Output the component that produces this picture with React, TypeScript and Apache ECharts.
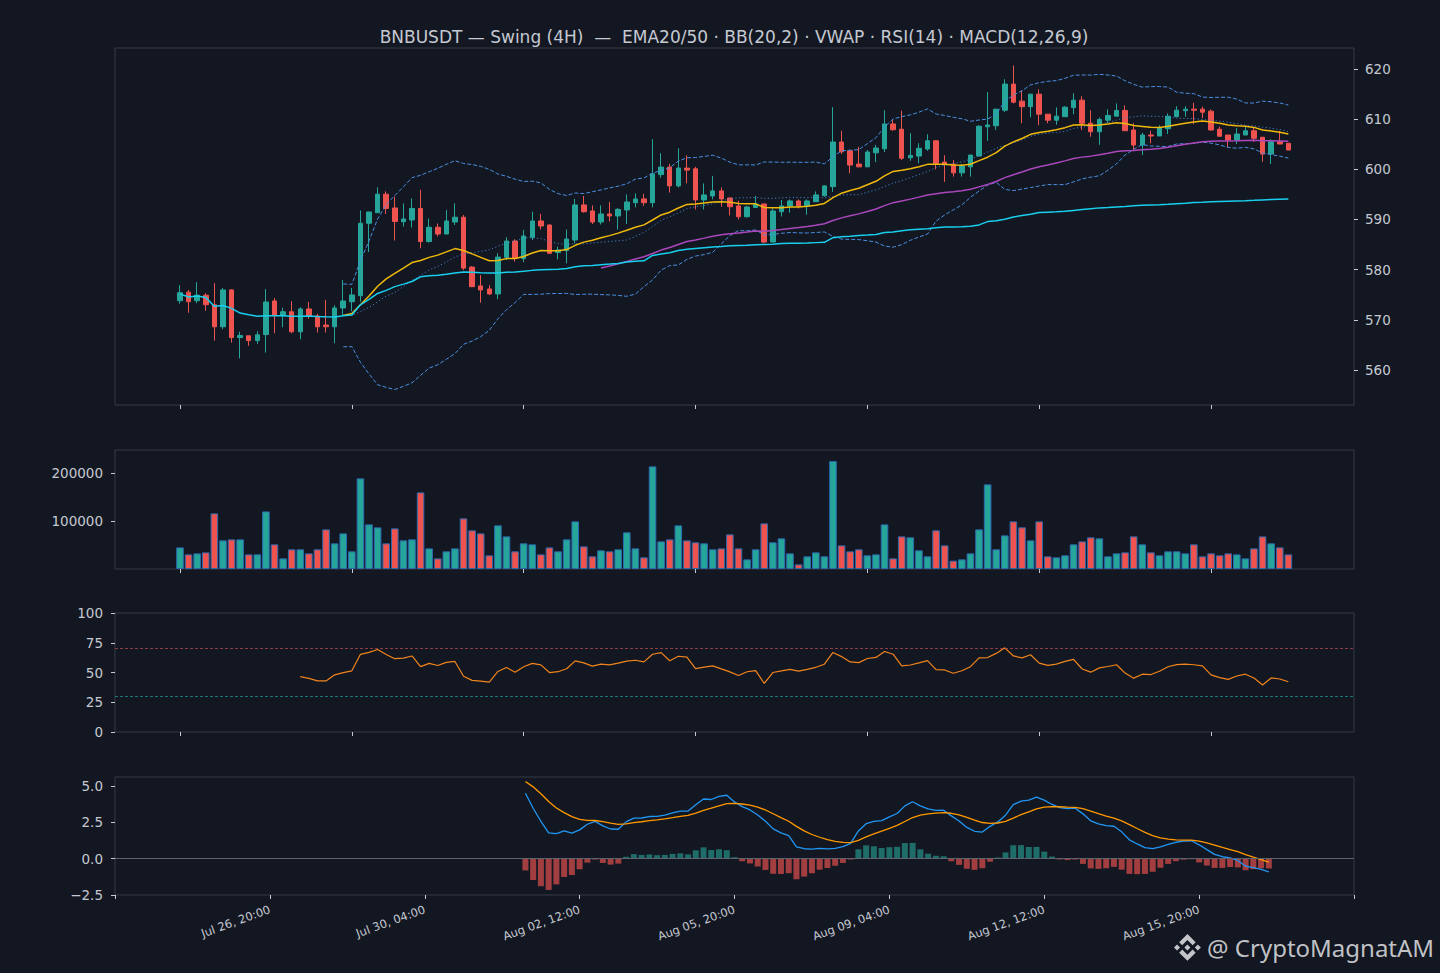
import React, { useEffect, useRef } from "react";
import * as echarts from "echarts";

// ---------- data (4H candles, index 0 = Jul 26 20:00) ----------
const opens = [
  573.8, 575.5, 573.8, 574.9, 573.0, 568.6, 575.95, 566.45, 566.8, 565.85,
  567.05, 573.75, 570.95, 571.6, 567.6, 572.15, 570.75, 568.95, 568.6, 572.35,
  573.6, 574.8, 589.25, 591.35, 595.05, 592.3, 589.55, 589.9, 592.2, 585.6,
  588.45, 587.1, 589.5, 590.45, 580.5, 576.75, 576.15, 575.15, 582.45, 585.7,
  582.2, 586.45, 589.7, 588.9, 583.4, 583.8, 585.9, 592.9, 591.7, 589.5,
  591.1, 590.7, 591.9, 593.35, 594.1, 593.35, 598.95, 600.45, 596.7, 600.25,
  600.1, 593.9, 594.7, 595.7, 594.3, 592.7, 590.55, 592.4, 593.1, 585.5,
  591.55, 592.7, 593.7, 592.7, 593.55, 594.75, 596.55, 605.45, 603.7, 601.05,
  600.5, 603.3, 604.1, 609.05, 608.0, 602.3, 602.65, 604.05, 605.7, 601.45,
  601.05, 599.3, 600.5, 602.65, 608.5, 608.7, 611.8, 617.0, 613.6, 612.5,
  615.0, 611.0, 609.8, 610.5, 612.3, 613.8, 609.2, 607.5, 609.8, 610.6,
  611.75, 607.85, 604.85, 606.85, 606.65, 608.1, 610.5, 611.7, 612.0, 612.0,
  611.6, 608.0, 606.85, 605.85, 606.85, 607.7, 606.4, 603.05, 605.5, 605.2,
];
const highs = [
  576.9, 575.95, 577.5, 575.3, 577.3, 576.35, 576.1, 567.6, 566.8, 567.7,
  576.1, 574.35, 572.4, 573.7, 572.5, 573.55, 571.2, 573.95, 572.9, 577.95,
  576.35, 591.8, 591.5, 596.4, 595.6, 594.55, 593.2, 594.2, 595.9, 590.2,
  589.2, 591.9, 593.2, 590.9, 580.7, 578.9, 576.9, 583.25, 586.45, 586.05,
  587.9, 591.55, 591.1, 589.0, 584.6, 588.0, 594.1, 594.7, 592.8, 592.8,
  593.5, 592.3, 595.0, 595.2, 595.1, 606.0, 603.2, 601.1, 604.2, 602.8,
  600.5, 597.2, 598.7, 596.4, 594.3, 593.75, 592.7, 594.7, 593.1, 592.2,
  593.9, 594.0, 594.0, 594.0, 595.6, 596.8, 612.4, 607.7, 603.7, 604.5,
  603.85, 604.9, 611.8, 609.8, 611.7, 607.2, 605.2, 607.0, 605.7, 602.8,
  601.85, 601.05, 602.85, 608.8, 615.4, 612.0, 617.95, 620.7, 615.7, 615.0,
  615.95, 611.0, 612.35, 612.6, 615.15, 614.6, 611.8, 610.35, 611.95, 613.15,
  612.75, 609.2, 607.3, 607.7, 608.8, 611.15, 612.6, 612.6, 613.3, 612.5,
  611.95, 608.5, 606.85, 608.2, 608.6, 608.4, 606.4, 606.0, 607.7, 605.2,
];
const lows = [
  573.2, 571.4, 573.3, 571.8, 565.85, 568.1, 565.45, 562.3, 564.8, 565.2,
  563.45, 567.3, 568.5, 567.3, 566.1, 570.2, 567.45, 567.45, 565.3, 570.75,
  571.7, 573.6, 583.5, 591.35, 591.1, 585.8, 588.6, 588.4, 584.25, 585.4,
  586.6, 587.1, 588.9, 579.9, 576.5, 573.4, 574.95, 574.1, 581.9, 581.6,
  581.5, 585.9, 588.0, 583.1, 582.05, 581.25, 585.25, 591.35, 589.1, 589.0,
  589.6, 588.0, 589.1, 592.4, 592.7, 592.4, 598.3, 595.35, 596.4, 597.2,
  592.0, 592.0, 594.0, 592.55, 590.8, 590.0, 590.4, 592.4, 585.25, 585.4,
  590.6, 591.35, 592.2, 590.95, 593.55, 594.55, 595.5, 603.05, 599.2, 600.4,
  600.5, 601.45, 603.45, 607.7, 601.85, 601.7, 601.2, 603.7, 600.0, 597.5,
  598.55, 598.55, 598.55, 602.65, 605.7, 607.85, 611.4, 613.15, 609.2, 610.35,
  608.8, 609.2, 608.9, 610.5, 611.0, 607.85, 606.5, 604.9, 609.2, 610.6,
  607.7, 603.7, 602.85, 605.2, 606.65, 607.05, 610.5, 610.5, 609.0, 610.2,
  607.7, 606.6, 604.4, 605.05, 606.85, 605.5, 601.5, 601.05, 605.05, 603.85,
];
const closes = [
  575.4, 573.6, 574.9, 573.0, 568.6, 575.95, 566.45, 566.85, 565.85, 567.0,
  573.55, 570.95, 571.6, 567.6, 572.15, 570.75, 568.6, 568.6, 572.35, 573.75,
  574.95, 589.25, 591.5, 595.05, 592.2, 589.6, 590.1, 592.2, 585.6, 588.45,
  587.1, 589.7, 590.45, 580.3, 576.6, 575.95, 575.15, 582.5, 585.7, 582.25,
  586.7, 589.7, 588.7, 583.25, 583.9, 586.1, 592.9, 591.55, 589.5, 591.1,
  590.7, 592.0, 593.5, 594.1, 593.35, 599.1, 600.45, 596.7, 600.25, 599.85,
  593.9, 594.9, 595.7, 594.1, 592.55, 590.55, 592.5, 593.1, 585.5, 591.7,
  592.7, 593.7, 592.7, 593.7, 594.9, 596.7, 605.45, 603.5, 600.85, 600.5,
  603.45, 604.25, 609.05, 607.9, 602.2, 602.8, 604.2, 605.7, 601.2, 601.05,
  599.3, 600.65, 602.85, 608.6, 608.85, 612.0, 617.0, 613.4, 612.5, 615.0,
  611.0, 609.8, 610.6, 612.4, 613.8, 609.2, 607.5, 609.95, 610.75, 611.75,
  607.7, 604.85, 606.85, 606.65, 608.3, 610.6, 611.8, 612.0, 611.8, 611.4,
  607.85, 606.6, 605.85, 607.05, 607.7, 606.2, 603.05, 605.5, 605.05, 603.85,
];
const volumes = [
  45000, 30500, 32600, 34700, 116000, 59700, 61800, 61800, 30500, 30500,
  120000, 51400, 22200, 41000, 41000, 32600, 41000, 82600, 53500, 74300,
  36800, 188900, 93000, 86800, 53500, 84700, 59700, 61800, 159700, 43000,
  22200, 36800, 43000, 105600, 80600, 74300, 28500, 91000, 68000, 36800,
  53500, 51400, 30500, 45000, 36800, 61800, 99300, 47200, 26400, 38900,
  36800, 41000, 76400, 43000, 24300, 213900, 57600, 61800, 91000, 59700,
  55600, 53500, 41000, 43000, 72200, 43000, 20100, 41000, 95100, 55600,
  63900, 32600, 9700, 26400, 34700, 26400, 225000, 49300, 36800, 41000,
  28500, 30500, 93000, 22200, 68000, 66000, 38900, 26400, 80600, 49300,
  17400, 20100, 32600, 82600, 176400, 41000, 70100, 99300, 86800, 59700,
  99300, 26400, 24300, 28500, 51400, 57600, 66000, 63900, 26400, 32600,
  34700, 68000, 51400, 34700, 28500, 36800, 36800, 32600, 51400, 26400,
  32600, 28500, 32600, 30500, 22200, 43000, 68000, 53500, 45100, 30500,
];
const dateLabels = [
  "Jul 26, 20:00", "Jul 30, 04:00", "Aug 02, 12:00", "Aug 05, 20:00",
  "Aug 09, 04:00", "Aug 12, 12:00", "Aug 15, 20:00",
];
const priceTicks = [560, 570, 580, 590, 600, 610, 620];
const volumeTicks = [100000, 200000];
const macdTicks = [-2.5, 0, 2.5, 5];
const candleTicks = [0, 20, 40, 60, 80, 100, 120];
const titleText =
  "BNBUSDT \u2014 Swing (4H)  \u2014  EMA20/50 \u00b7 BB(20,2) \u00b7 VWAP \u00b7 RSI(14) \u00b7 MACD(12,26,9)";
const watermarkText = "@ CryptoMagnatAM";

// ---------- indicators derived from the candles (TA-Lib conventions) ----------
type N = number | null;
// EMA seeded with the SMA of src[start .. start+n-1]; first output at start+n-1
function emaSeeded(src: N[], n: number, start: number): N[] {
  const k = 2 / (n + 1);
  const out: N[] = src.map(() => null);
  let sum = 0;
  for (let i = start; i < start + n; i++) sum += src[i] as number;
  let prev = sum / n;
  out[start + n - 1] = prev;
  for (let i = start + n; i < src.length; i++) {
    prev = ((src[i] as number) - prev) * k + prev;
    out[i] = prev;
  }
  return out;
}
const ema20 = emaSeeded(closes, 20, 0);
const ema50 = emaSeeded(closes, 50, 0);

const bbMid: N[] = [];
const bbUp: N[] = [];
const bbLo: N[] = [];
closes.forEach((_, i) => {
  if (i < 19) {
    bbMid.push(null); bbUp.push(null); bbLo.push(null);
    return;
  }
  const w = closes.slice(i - 19, i + 1);
  const m = w.reduce((s, x) => s + x, 0) / 20;
  const sd = Math.sqrt(w.reduce((s, x) => s + (x - m) * (x - m), 0) / 20);
  bbMid.push(m); bbUp.push(m + 2 * sd); bbLo.push(m - 2 * sd);
});

let cumPV = 0, cumV = 0;
const vwap = closes.map((c, i) => {
  const tp = (highs[i] + lows[i] + c) / 3;
  cumPV += tp * volumes[i];
  cumV += volumes[i];
  return cumPV / cumV;
});

// RSI(14), Wilder smoothing with SMA seed
const rsi: N[] = closes.map(() => null);
{
  let g = 0, l = 0;
  for (let i = 1; i <= 14; i++) {
    const d = closes[i] - closes[i - 1];
    g += Math.max(d, 0);
    l += Math.max(-d, 0);
  }
  g /= 14; l /= 14;
  rsi[14] = (100 * g) / (g + l);
  for (let i = 15; i < closes.length; i++) {
    const d = closes[i] - closes[i - 1];
    g = (g * 13 + Math.max(d, 0)) / 14;
    l = (l * 13 + Math.max(-d, 0)) / 14;
    rsi[i] = g + l === 0 ? 50 : (100 * g) / (g + l);
  }
}

// MACD(12,26,9) — both EMAs aligned to start at index 25
const slow = emaSeeded(closes, 26, 0);
const fast = emaSeeded(closes, 12, 14);
const macdRaw: N[] = closes.map((_, i) =>
  fast[i] == null || slow[i] == null ? null : (fast[i] as number) - (slow[i] as number)
);
const signal = emaSeeded(macdRaw, 9, 25);
const macd: N[] = macdRaw.map((m, i) => (signal[i] == null ? null : m));
const hist: N[] = macd.map((m, i) => (m == null || signal[i] == null ? null : m - (signal[i] as number)));

const pairs = (arr: N[]) =>
  arr.map((v, i) => (v == null ? null : [i, v])).filter((p) => p !== null) as number[][];

// ---------- styling ----------
const BG = "#131722";
const TXT = "#c5c9d1";
const SPINE = "#363a45";
const UP = "#26a69a";
const DOWN = "#ef5350";
const FONT = "DejaVu Sans";

const LOGO_D =
  "M16.624 13.9202l2.7175 2.7154-7.353 7.353-7.3509-7.352 2.7175-2.7164 4.6334 4.6355 4.6355-4.6365zm4.6366-4.6366L24 12l-2.7154 2.7164L18.5682 12l2.6924-2.7164zm-9.272.001l2.7163 2.6914-2.7164 2.7174v-.0041L9.2721 12l2.7164-2.7154zm-9.2722-.001L5.4088 12l-2.6914 2.6924L0 12l2.7164-2.7164zM11.9885.0115l7.353 7.329-2.7174 2.7154-4.6356-4.6356-4.6355 4.6595-2.7174-2.7154 7.353-7.353z";
let logoRegistered = false;
function registerLogo() {
  if (logoRegistered) return;
  echarts.graphic.registerShape("bnbLogo", echarts.graphic.extendPath(LOGO_D, {}) as any);
  logoRegistered = true;
}

const GRIDS = [
  { top: 48, height: 357 },
  { top: 450, height: 119 },
  { top: 613, height: 119 },
  { top: 777, height: 118 },
];

function topX(gi: number) {
  return {
    type: "value",
    gridIndex: gi,
    min: -7.565,
    max: 136.64,
    axisLine: { show: false, onZero: false },
    splitLine: { show: false },
    axisTick: { show: true, customValues: candleTicks, length: 4, lineStyle: { color: TXT, width: 1 } },
    axisLabel: { show: false },
  };
}

function buildOption(): any {
  const tickStyle = { show: true, length: 4, lineStyle: { color: TXT, width: 1 } };
  const labelLeft = { color: TXT, fontSize: 13.5, fontFamily: FONT, margin: 12 };
  const labelRight = { color: TXT, fontSize: 13.5, fontFamily: FONT, margin: 11 };
  return {
    animation: false,
    backgroundColor: BG,
    textStyle: { fontFamily: FONT },
    grid: GRIDS.map((g) => ({
      left: 115,
      width: 1239,
      top: g.top,
      height: g.height,
      show: true,
      borderColor: SPINE,
      borderWidth: 1,
      backgroundColor: BG,
      containLabel: false,
    })),
    xAxis: [
      topX(0),
      topX(1),
      topX(2),
      {
        type: "value",
        gridIndex: 3,
        min: -20,
        max: 140,
        interval: 20,
        axisLine: { show: false, onZero: false },
        splitLine: { show: false },
        axisTick: tickStyle,
        axisLabel: {
          color: TXT,
          fontSize: 11.5,
          fontFamily: FONT,
          rotate: 20,
          margin: 14,
          showMinLabel: true,
          showMaxLabel: true,
          formatter: (v: number) => {
            const k = Math.round(v / 20);
            return k >= 0 && k < dateLabels.length ? dateLabels[k] : "";
          },
        },
      },
    ],
    yAxis: [
      {
        type: "value",
        gridIndex: 0,
        position: "right",
        min: 553.0,
        max: 624.2,
        axisLine: { show: false, onZero: false },
        splitLine: { show: false },
        axisTick: { ...tickStyle, customValues: priceTicks },
        axisLabel: { ...labelRight, customValues: priceTicks, formatter: (v: number) => String(v) },
      },
      {
        type: "value",
        gridIndex: 1,
        position: "left",
        min: 0,
        max: 248000,
        axisLine: { show: false, onZero: false },
        splitLine: { show: false },
        axisTick: { ...tickStyle, customValues: volumeTicks },
        axisLabel: { ...labelLeft, customValues: volumeTicks, formatter: (v: number) => String(v) },
      },
      {
        type: "value",
        gridIndex: 2,
        position: "left",
        min: 0,
        max: 100,
        interval: 25,
        axisLine: { show: false, onZero: false },
        splitLine: { show: false },
        axisTick: tickStyle,
        axisLabel: labelLeft,
      },
      {
        type: "value",
        gridIndex: 3,
        position: "left",
        min: -2.5,
        max: 5.62,
        axisLine: { show: false, onZero: false },
        splitLine: { show: false },
        axisTick: { ...tickStyle, customValues: macdTicks },
        axisLabel: {
          ...labelLeft,
          customValues: macdTicks,
          formatter: (v: number) => v.toFixed(1).replace("-", "\u2212"),
        },
      },
    ],
    series: [
      {
        type: "candlestick",
        xAxisIndex: 0,
        yAxisIndex: 0,
        dimensions: ["idx", "open", "close", "lowest", "highest"],
        encode: { x: 0, y: [1, 2, 3, 4] },
        data: closes.map((c, i) => [i, opens[i], c, lows[i], highs[i]]),
        barWidth: 5,
        itemStyle: { color: UP, color0: DOWN, borderColor: UP, borderColor0: DOWN, borderWidth: 1 },
        z: 2,
      },
      {
        type: "line", xAxisIndex: 0, yAxisIndex: 0, data: pairs(bbUp), symbol: "none", z: 3,
        lineStyle: { color: "#4a8fe0", width: 1, type: [4, 2] },
      },
      {
        type: "line", xAxisIndex: 0, yAxisIndex: 0, data: pairs(bbLo), symbol: "none", z: 3,
        lineStyle: { color: "#4a8fe0", width: 1, type: [4, 2] },
      },
      {
        type: "line", xAxisIndex: 0, yAxisIndex: 0, data: pairs(bbMid), symbol: "none", z: 3,
        lineStyle: { color: "#4a8fe0", width: 1, type: [1.2, 2.4], opacity: 0.85 },
      },
      {
        type: "line", xAxisIndex: 0, yAxisIndex: 0, data: pairs(ema50), symbol: "none", z: 4,
        lineStyle: { color: "#ab47bc", width: 1.5 },
      },
      {
        type: "line", xAxisIndex: 0, yAxisIndex: 0, data: pairs(ema20), symbol: "none", z: 4,
        lineStyle: { color: "#f0b90b", width: 1.5 },
      },
      {
        type: "line", xAxisIndex: 0, yAxisIndex: 0, data: pairs(vwap), symbol: "none", z: 4,
        lineStyle: { color: "#18cfee", width: 1.5 },
      },
      {
        type: "bar",
        xAxisIndex: 1,
        yAxisIndex: 1,
        barWidth: 7.6,
        data: volumes.map((v, i) => ({
          value: [i, v],
          itemStyle: { color: closes[i] >= opens[i] ? UP : DOWN },
        })),
        itemStyle: { borderColor: "#2a6aae", borderWidth: 1 },
      },
      {
        type: "line",
        xAxisIndex: 2,
        yAxisIndex: 2,
        data: pairs(rsi),
        symbol: "none",
        lineStyle: { color: "#f0841c", width: 1.2 },
        markLine: {
          silent: true,
          symbol: "none",
          label: { show: false },
          data: [
            { yAxis: 70, lineStyle: { color: "#a8474c", type: [3, 2], width: 0.8 } },
            { yAxis: 30, lineStyle: { color: "#1f8f8a", type: [3, 2], width: 0.8 } },
          ],
        },
      },
      {
        type: "bar",
        xAxisIndex: 3,
        yAxisIndex: 3,
        barWidth: 6,
        data: pairs(hist).map((p) => ({
          value: p,
          itemStyle: { color: p[1] >= 0 ? "rgba(38,166,154,0.6)" : "rgba(239,83,80,0.65)" },
        })),
        markLine: {
          silent: true,
          symbol: "none",
          label: { show: false },
          data: [{ yAxis: 0, lineStyle: { color: "#5d626e", type: "solid", width: 1 } }],
        },
      },
      {
        type: "line", xAxisIndex: 3, yAxisIndex: 3, data: pairs(macd), symbol: "none", z: 4,
        lineStyle: { color: "#2196f3", width: 1.3 },
      },
      {
        type: "line", xAxisIndex: 3, yAxisIndex: 3, data: pairs(signal.map((s, i) => (macd[i] == null ? null : s))),
        symbol: "none", z: 4,
        lineStyle: { color: "#ff9800", width: 1.3 },
      },
    ],
    graphic: [
      {
        type: "text",
        x: 734,
        y: 37,
        style: {
          text: titleText,
          fill: TXT,
          font: `17px "${FONT}"`,
          textAlign: "center",
          textVerticalAlign: "middle",
        },
      },
      {
        type: "group",
        x: 1174,
        y: 934,
        children: [
          {
            type: "bnbLogo",
            x: 0,
            y: 0,
            scaleX: 1.12,
            scaleY: 1.12,
            style: { fill: "#d4d4d8", opacity: 0.92 },
          },
          {
            type: "text",
            x: 33,
            y: 13.5,
            style: {
              text: watermarkText,
              fill: "#d4d4d8",
              opacity: 0.92,
              font: `24px "Noto Sans"`,
              textAlign: "left",
              textVerticalAlign: "middle",
            },
          },
        ],
      },
    ],
  };
}

export default function App() {
  const ref = useRef<HTMLDivElement | null>(null);
  useEffect(() => {
    if (!ref.current) return;
    registerLogo();
    const chart = echarts.init(ref.current, undefined, { renderer: "svg" });
    chart.setOption(buildOption());
    return () => chart.dispose();
  }, []);
  return (
    <div
      ref={ref}
      style={{ position: "fixed", left: 0, top: 0, width: 1440, height: 973, background: BG }}
    />
  );
}
